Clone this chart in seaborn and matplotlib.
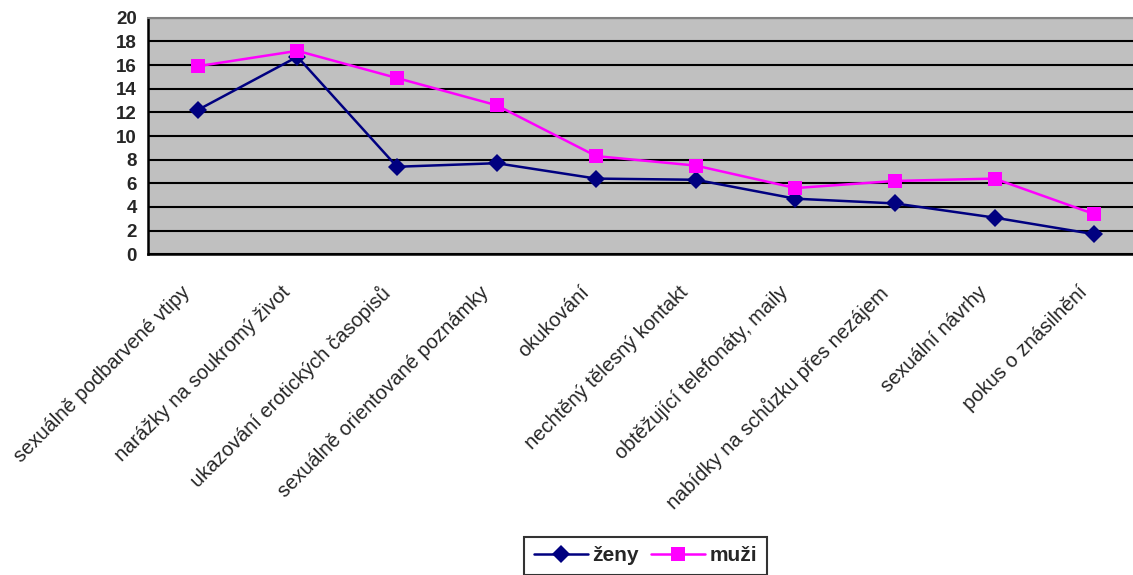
import matplotlib
matplotlib.use("Agg")
import matplotlib.pyplot as plt
import matplotlib.transforms as mtransforms
import seaborn as sns
import numpy as np
import pandas as pd
from matplotlib.ticker import FixedLocator

categories = [
    "sexuálně podbarvené vtipy",
    "narážky na soukromý život",
    "ukazování erotických časopisů",
    "sexuálně orientované poznámky",
    "okukování",
    "nechtěný tělesný kontakt",
    "obtěžující telefonáty, maily",
    "nabídky na schůzku přes nezájem",
    "sexuální návrhy",
    "pokus o znásilnění",
]
zeny = [12.2, 16.7, 7.4, 7.7, 6.4, 6.3, 4.7, 4.3, 3.1, 1.7]
muzi = [15.9, 17.2, 14.9, 12.6, 8.3, 7.5, 5.6, 6.2, 6.4, 3.4]
series_names = ["ženy", "muži"]
y_ticks = list(range(0, 21, 2))

sns.set_style("white")
plt.rcParams["font.family"] = ["Liberation Sans", "DejaVu Sans"]

W, H = 1133, 575
fig = plt.figure(figsize=(W / 100, H / 100), dpi=100)
# plot area runs slightly past the right edge of the picture (cropped chart)
ax = fig.add_axes([148 / W, 1 - 254.3 / H, 996 / W, 236.6 / H])
ax.set_facecolor("#C0C0C0")

df = pd.DataFrame({"cat": categories, series_names[0]: zeny, series_names[1]: muzi})

sns.lineplot(data=df, x="cat", y=series_names[0], ax=ax, color="#000080", lw=1.8,
             marker="D", markersize=9, markeredgewidth=0, label=series_names[0],
             sort=False, clip_on=False)
sns.lineplot(data=df, x="cat", y=series_names[1], ax=ax, color="#FF00FF", lw=1.8,
             marker="s", markersize=10, markeredgewidth=0, label=series_names[1],
             sort=False, clip_on=False)

n = len(categories)
ax.set_xlim(-0.5, n - 0.5)
ax.set_ylim(0, 20)
ax.set_yticks(y_ticks)
ax.set_yticklabels([str(t) for t in y_ticks], fontsize=13.5, fontweight="bold")
ax.set_xticks(range(n))
ax.set_xticklabels(categories, rotation=45, ha="right", rotation_mode="anchor",
                   fontsize=14.5)
ax.xaxis.set_minor_locator(FixedLocator(np.arange(-0.5, n, 1.0)))
ax.tick_params(axis="x", which="major", length=0, pad=17)
ax.tick_params(axis="x", which="minor", length=6, width=1.5, color="black", direction="out")
ax.tick_params(axis="y", which="major", length=6, width=1.5, color="black", direction="out", pad=2)
ax.set_xlabel("")
ax.set_ylabel("")

offset = mtransforms.ScaledTranslation(-17 / 100, -5 / 100, fig.dpi_scale_trans)
for lbl in ax.get_xticklabels():
    lbl.set_transform(lbl.get_transform() + offset)

ax.grid(axis="y", color="black", lw=1.5)
ax.grid(axis="x", visible=False)
for s in ["left", "bottom"]:
    ax.spines[s].set_color("black")
    ax.spines[s].set_linewidth(1.8)
for s in ["top", "right"]:
    ax.spines[s].set_color("#808080")
    ax.spines[s].set_linewidth(1.5)

handles, labels = ax.get_legend_handles_labels()
ax.get_legend().remove()
leg = fig.legend(handles, labels, loc="upper center",
                 bbox_to_anchor=(645.5 / W, 1 - 537 / H),
                 ncol=2, frameon=True, fancybox=False, handlelength=2.6,
                 handletextpad=0.2, columnspacing=0.6, borderpad=0.45,
                 borderaxespad=0.0,
                 prop={"size": 15, "weight": "bold"})
leg.get_frame().set_edgecolor("black")
leg.get_frame().set_linewidth(1.5)

fig.savefig("out.png", dpi=100)
